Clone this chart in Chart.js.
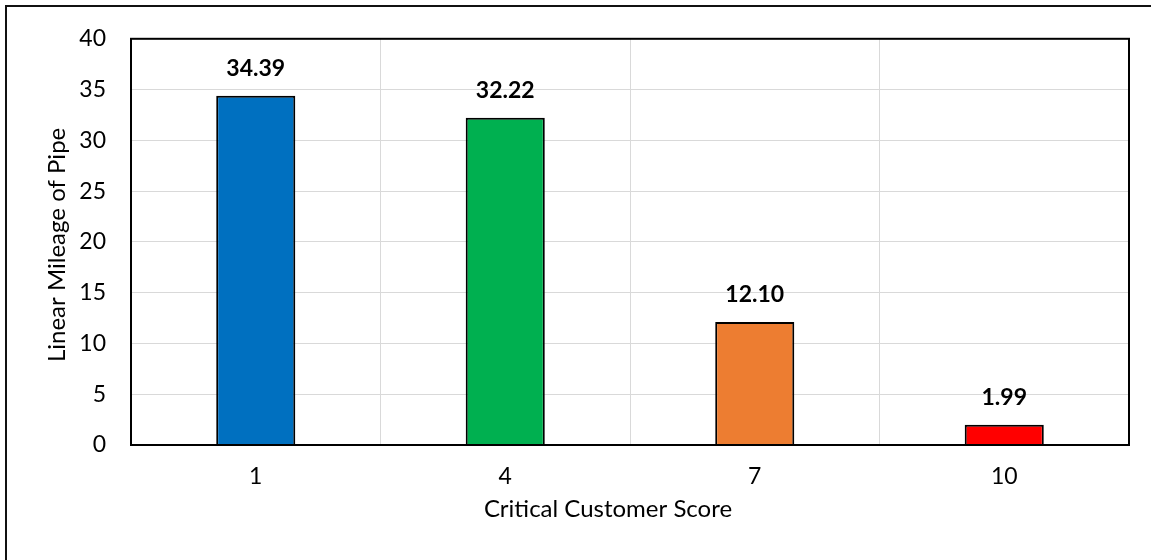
<!DOCTYPE html>
<html>
<head>
  <title>Critical Customer Score</title>
  <script src="https://cdn.jsdelivr.net/npm/chart.js"></script>
  <style>
    body { margin: 0; background: #fff; }
    #wrap { position: relative; width: 1151px; height: 560px; overflow: hidden; }
    #frame { position: absolute; left: 5px; top: 5px; width: 1200px; height: 600px;
             border-left: 2px solid #111; border-top: 2px solid #111; }
    canvas { position: absolute; left: 0; top: 0; }
  </style>
  <script>
    const scores = ['1', '4', '7', '10'];
    const mileage = [34.39, 32.22, 12.10, 1.99];
    const barColors = ['#0070C0', '#00B050', '#ED7D31', '#FF0000'];
    const xTitle = 'Critical Customer Score';
    const yTitle = 'Linear Mileage of Pipe';

    const FONT = 'Lato, "Open Sans", sans-serif';

    // value labels above each bar
    const valueLabels = {
      id: 'valueLabels',
      afterDatasetsDraw(chart) {
        const ctx = chart.ctx;
        const meta = chart.getDatasetMeta(0);
        ctx.save();
        ctx.font = 'bold 23px ' + FONT;
        ctx.fillStyle = '#000';
        ctx.textAlign = 'center';
        ctx.textBaseline = 'alphabetic';
        meta.data.forEach((bar, i) => {
          ctx.fillText(mileage[i].toFixed(2), bar.x, bar.y - 20);
        });
        ctx.restore();
      }
    };

    // dark frame around the plot area plus the two axis titles
    const plotFrame = {
      id: 'plotFrame',
      afterDatasetsDraw(chart) {
        const a = chart.chartArea;
        const ctx = chart.ctx;
        ctx.save();
        ctx.strokeStyle = '#000';
        ctx.lineWidth = 2;
        ctx.strokeRect(a.left, a.top, a.right - a.left, a.bottom - a.top);

        ctx.font = '24px ' + FONT;
        ctx.fillStyle = '#000';
        ctx.textAlign = 'center';
        ctx.textBaseline = 'alphabetic';
        ctx.fillText(xTitle, (a.left + a.right) / 2 - 22, a.bottom + 72);

        ctx.translate(a.left - 66, (a.top + a.bottom) / 2 + 3);
        ctx.rotate(-Math.PI / 2);
        ctx.fillText(yTitle, 0, 0);
        ctx.restore();
      }
    };

    window.onload = function() {
      const ctx = document.getElementById('myChart').getContext('2d');
      new Chart(ctx, {
        type: 'bar',
        data: {
          labels: scores,
          datasets: [{
            data: mileage,
            backgroundColor: barColors,
            borderColor: '#000',
            borderWidth: 2,
            categoryPercentage: 1,
            barPercentage: 0.317
          }]
        },
        options: {
          responsive: false,
          animation: false,
          layout: { padding: { left: 0, top: 37, right: 22, bottom: 0 } },
          plugins: { legend: { display: false }, tooltip: { enabled: false } },
          scales: {
            x: {
              grid: { color: '#d9d9d9', lineWidth: 1, drawTicks: false, offset: true },
              border: { display: false },
              ticks: { color: '#000', padding: 18, font: { family: FONT, size: 23 } },
              afterFit(scale) { scale.height = 115; }
            },
            y: {
              min: 0, max: 40,
              ticks: { stepSize: 5, color: '#000', padding: 25, font: { family: FONT, size: 23 } },
              grid: { color: '#d9d9d9', lineWidth: 1, drawTicks: false },
              border: { display: false },
              afterFit(scale) { scale.width = 131; }
            }
          }
        },
        plugins: [plotFrame, valueLabels]
      });
    };
  </script>
</head>
<body>
<div id="wrap">
  <div id="frame"></div>
  <canvas id="myChart" width="1151" height="560"></canvas>
</div>
</body>
</html>
